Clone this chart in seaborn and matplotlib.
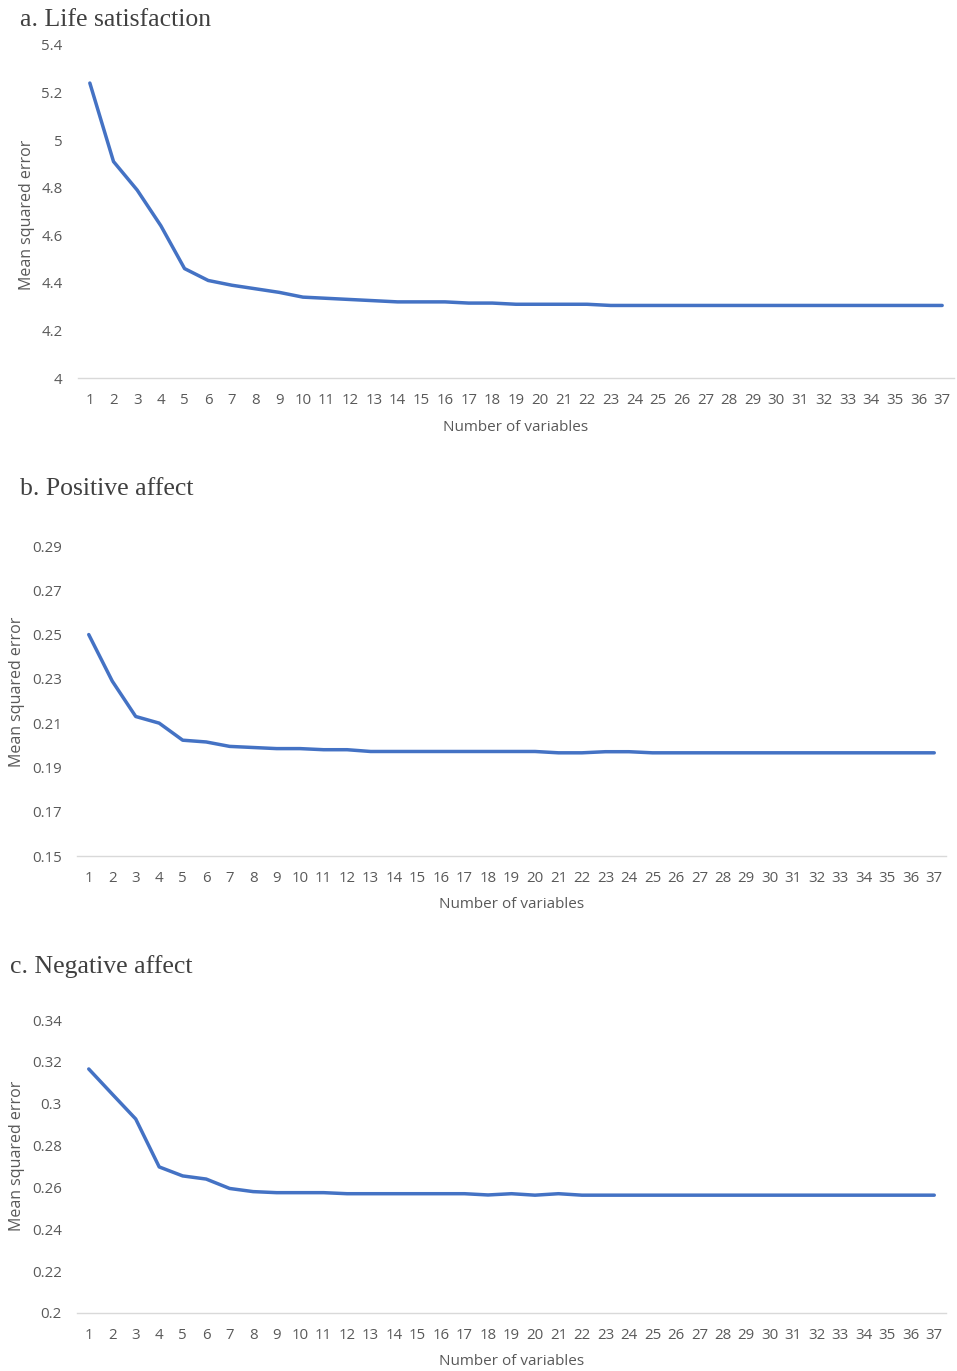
import numpy as np
import pandas as pd
import seaborn as sns
import matplotlib
matplotlib.use("Agg")
import matplotlib.pyplot as plt

# number of variables on the x axis
n_vars = list(range(1, 38))

# mean squared error
life_sat = [5.24, 4.91, 4.79, 4.64, 4.46, 4.41, 4.39, 4.375, 4.36, 4.34,
            4.335, 4.33, 4.325, 4.32, 4.32, 4.32, 4.315, 4.315, 4.31, 4.31,
            4.31, 4.31, 4.305, 4.305, 4.305, 4.305, 4.305, 4.305, 4.305, 4.305,
            4.305, 4.305, 4.305, 4.305, 4.305, 4.305, 4.305]
pos_affect = [0.250, 0.229, 0.213, 0.210, 0.2023, 0.2015, 0.1995, 0.199, 0.1985, 0.1985,
              0.198, 0.198, 0.1972, 0.1972, 0.1972, 0.1972, 0.1972, 0.1972, 0.1972, 0.1972,
              0.1966, 0.1966, 0.1971, 0.1971, 0.1966, 0.1966, 0.1966, 0.1966, 0.1966, 0.1966,
              0.1966, 0.1966, 0.1966, 0.1966, 0.1966, 0.1966, 0.1966]
neg_affect = [0.3166, 0.3046, 0.2927, 0.2698, 0.2655, 0.264, 0.2595, 0.258, 0.2575, 0.2575,
              0.2575, 0.257, 0.257, 0.257, 0.257, 0.257, 0.257, 0.2564, 0.257, 0.2563,
              0.257, 0.2563, 0.2563, 0.2563, 0.2563, 0.2563, 0.2563, 0.2563, 0.2563, 0.2563,
              0.2563, 0.2563, 0.2563, 0.2563, 0.2563, 0.2563, 0.2563]

titles = ["a. Life satisfaction", "b. Positive affect", "c. Negative affect"]
y_ticks = [
    [4, 4.2, 4.4, 4.6, 4.8, 5, 5.2, 5.4],
    [0.15, 0.17, 0.19, 0.21, 0.23, 0.25, 0.27, 0.29],
    [0.2, 0.22, 0.24, 0.26, 0.28, 0.3, 0.32, 0.34],
]
y_tick_labels = [
    ["4", "4.2", "4.4", "4.6", "4.8", "5", "5.2", "5.4"],
    ["0.15", "0.17", "0.19", "0.21", "0.23", "0.25", "0.27", "0.29"],
    ["0.2", "0.22", "0.24", "0.26", "0.28", "0.3", "0.32", "0.34"],
]

sns.set_style("white")
plt.rcParams["font.family"] = ["Open Sans", "DejaVu Sans"]

W, H = 957, 1371
fig = plt.figure(figsize=(W / 100, H / 100), dpi=100)

# pixel boxes: left, right, top, bottom
boxes = [(78, 954, 45, 378), (77, 946, 546, 856), (77, 946, 1020, 1313)]
title_pos = [(20, 20), (20, 489), (10, 967)]
ylabel_x = [35, 25, 25]      # right edge of the rotated label
ylabel_y = [0.49, 0.53, 0.535]
xlabel_y = [420, 897, 1354]  # top of the label

df = pd.DataFrame({"n": n_vars, "life": life_sat, "pos": pos_affect, "neg": neg_affect})
gray = "#595959"

for i, col in enumerate(["life", "pos", "neg"]):
    l, r, t, b = boxes[i]
    ax = fig.add_axes([l / W, 1 - b / H, (r - l) / W, (b - t) / H])
    sns.lineplot(data=df, x="n", y=col, ax=ax, color="#4472C4", linewidth=2.5)
    ax.set_xlim(0.5, 37.5)
    ax.set_ylim(y_ticks[i][0], y_ticks[i][-1])
    ax.set_xticks(n_vars)
    ax.set_xticklabels([str(v) for v in n_vars], color=gray, fontsize=10.8)
    ax.set_yticks(y_ticks[i])
    ax.set_yticklabels(y_tick_labels[i], color=gray, fontsize=10.8)
    ax.tick_params(length=0)
    ax.tick_params(axis="x", pad=11)
    ax.tick_params(axis="y", pad=11)
    for s in ["top", "right", "left"]:
        ax.spines[s].set_visible(False)
    ax.spines["bottom"].set_color("#d9d9d9")
    ax.spines["bottom"].set_linewidth(1)
    ax.set_xlabel("Number of variables", color=gray, fontsize=11)
    ax.xaxis.set_label_coords(0.5, -(xlabel_y[i] - b) / (b - t))
    ax.set_ylabel("Mean squared error", color=gray, fontsize=11.5)
    ax.yaxis.set_label_coords((ylabel_x[i] - l) / (r - l), ylabel_y[i])
    tx, ty = title_pos[i]
    fig.text(tx / W, 1 - ty / H, titles[i], family=["Liberation Serif", "DejaVu Serif"],
             fontsize=18.5, color="#404040", va="center", ha="left")

fig.savefig("out.png", dpi=100)
